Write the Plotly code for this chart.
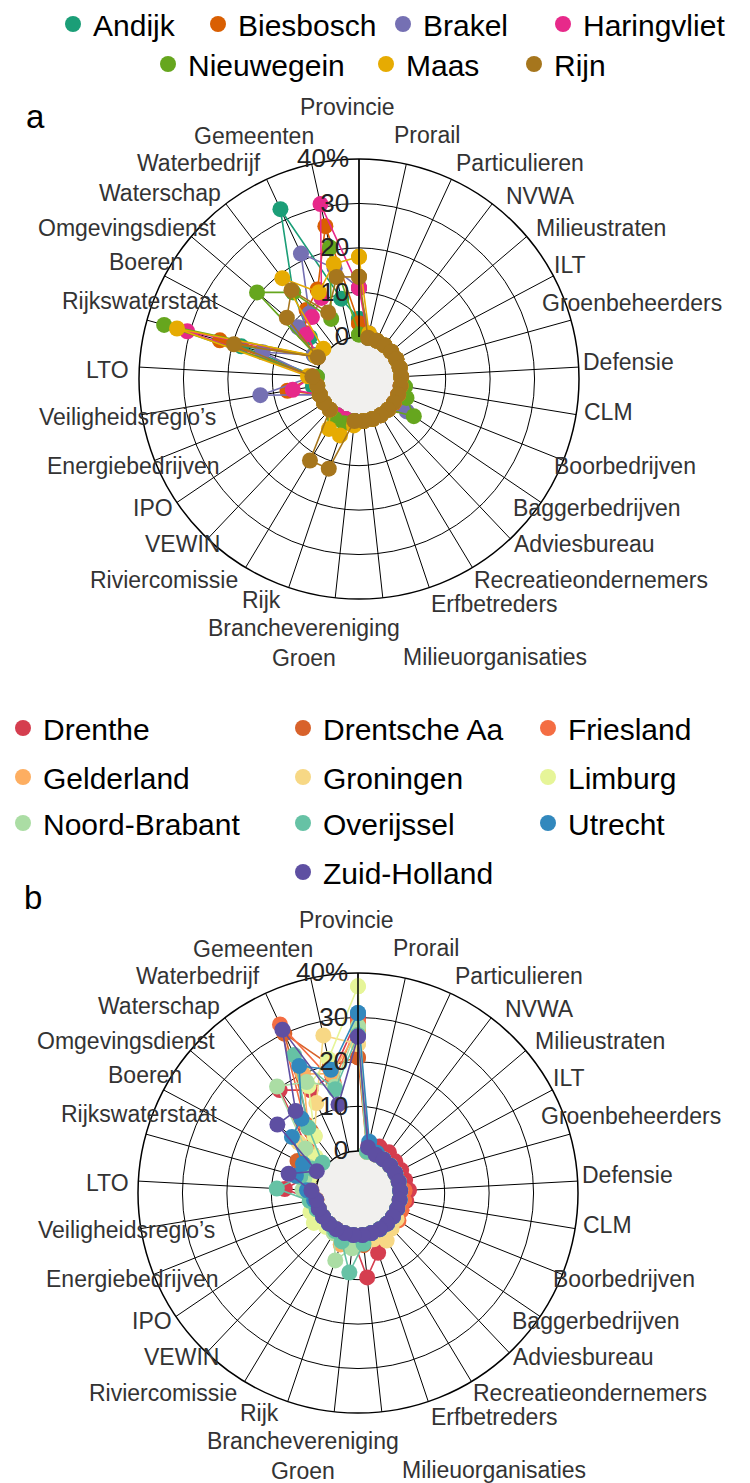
import plotly.graph_objects as go

# ---------------- data ----------------
categories = ["Provincie", "Prorail", "Particulieren", "NVWA", "Milieustraten", "ILT",
              "Groenbeheerders", "Defensie", "CLM", "Boorbedrijven", "Baggerbedrijven",
              "Adviesbureau", "Recreatieondernemers", "Erfbetreders", "Milieuorganisaties",
              "Branchevereniging<br>Groen", "Rijk", "Riviercomissie", "VEWIN", "IPO",
              "Energiebedrijven", "Veiligheidsregio’s", "LTO", "Rijkswaterstaat", "Boeren",
              "Omgevingsdienst", "Waterschap", "Waterbedrijf", "Gemeenten"]

# panel a (drinking-water intake points), % per actor
names_a = ["Andijk", "Biesbosch", "Brakel", "Haringvliet", "Nieuwegein", "Maas", "Rijn"]
andijk      = [4, 0, 0, 0, 0, 0, 0, 0, 0, 0, 0, 0, 0, 0, 0, 0, 0, 0, 0, 0, 0, 1, 0, 18, 2, 5, 15, 32.6, 9]
biesbosch   = [3, 0, 0, 0, 0, 0, 0, 0, 0, 0, 1, 0, 0, 0, 0, 0, 0, 0, 0, 0, 0, 6.8, 1, 23, 1, 6.5, 10, 12.7, 25.7]
brakel      = [11, 1, 0, 0, 0, 0, 0, 0, 0, 1, 3.5, 0, 0, 0, 0, 0, 0, 0, 0, 0, 0, 13, 1, 13, 2, 8.5, 9, 21.6, 16]
haringvliet = [11, 0, 0, 0, 0, 0, 0, 0, 0, 0, 0, 0, 0, 0, 0, 0, 0, 0, 0, 0, 0, 5.6, 1, 30.6, 1, 6, 8, 10.6, 30.8]
nieuwegein  = [0.5, 0, 0, 0, 0, 0, 0, 0, 1, 2, 5.4, 0, 0, 0, 0, 0, 1, 1, 0, 0, 0, 0, 0, 36, 1, 20.6, 15, 5.4, 20.8]
maas        = [18, 1, 0, 0, 0, 0, 0, 0, 0, 0, 0, 0, 0, 0, 0, 1, 3.9, 3.6, 0, 0, 0, 0, 2, 33, 1.5, 1, 19, 12, 17]
rijn        = [13.5, 0, 0, 0, 0, 0, 0, 0, 0, 0, 0, 0, 0, 0, 0, 0, 11.8, 11.9, 0, 0, 0, 0, 1, 19.7, 1, 11.8, 15.6, 7, 14]
values_a = [andijk, biesbosch, brakel, haringvliet, nieuwegein, maas, rijn]

# panel b (provinces / areas), % per actor
names_b = ["Drenthe", "Drentsche Aa", "Friesland", "Gelderland", "Groningen", "Limburg",
           "Noord-Brabant", "Overijssel", "Utrecht", "Zuid-Holland"]
drenthe      = [30, 1.5, 2, 2, 1.5, 1.5, 1.5, 2, 1.5, 1, 1, 1, 1, 4.7, 9.6, 1, 0.5, 0, 0, 0, 0.5, 0.5, 7, 3, 3, 5, 19.6, 16, 17.7]
drentsche_aa = [21, 0, 0, 0, 0, 0, 0, 0, 0, 0, 0, 0, 0, 0, 2.3, 0, 0, 0, 0, 0, 0, 0, 1, 2, 5.9, 4, 8, 30, 20]
friesland    = [29, 0, 0, 0, 0, 0, 0, 1, 1, 1, 1.5, 1, 0.5, 0, 0, 0, 0, 0, 0, 0, 0, 0, 2, 3, 2, 5, 10, 32.3, 16]
gelderland   = [27, 0, 0, 0, 0, 0, 0, 0, 0, 0, 0, 0, 0, 1, 1.5, 2, 2.7, 1, 0, 0, 0, 0, 2, 4, 2, 4, 9, 20, 18]
groningen    = [24, 0, 0, 0, 0, 0, 0, 0, 0, 0, 1, 1.5, 3, 1.5, 0.5, 0, 0, 0, 0, 0, 0, 0, 1, 3, 3, 8, 6.6, 12.8, 26.8]
limburg      = [37, 0, 0, 0, 0, 0, 0, 0, 0, 0, 0, 0, 0, 0, 0, 0, 0, 1, 1, 2.5, 2, 1.5, 2, 2, 2, 3, 6.6, 17, 21.4]
noord_brab   = [28, 0, 0, 0, 0, 0, 0, 0, 0, 0, 0, 0, 0, 0, 1, 3, 6.5, 1, 0, 0, 0.5, 1, 3, 3, 3, 6, 20.6, 18, 15]
overijssel   = [26, 0, 0, 0, 0, 0, 0, 0, 0, 0, 0, 0, 0, 0, 2, 8.5, 2, 0.5, 0, 0, 0.5, 1.5, 8.8, 4, 2, 1, 9, 24.7, 14.4]
utrecht      = [31, 2.3, 0.5, 0, 0, 0, 0, 0, 0, 0, 0, 0, 0, 0, 0, 0, 0, 0, 0, 0, 0, 0.5, 2, 5, 4.5, 10, 11.5, 22, 18.9]
zuid_holland = [25.7, 1, 0, 0, 0, 0, 0, 0, 0, 0, 0, 0, 0, 0, 0, 0, 0, 0, 0, 0, 0, 0, 1, 6.7, 1, 14.3, 13.7, 31, 10.9]
values_b = [drenthe, drentsche_aa, friesland, gelderland, groningen, limburg,
            noord_brab, overijssel, utrecht, zuid_holland]

radial_ticks = [0, 10, 20, 30, 40]
radial_ticktext = ["0", "10", "20", "30", "40%"]

# ---------------- styles / layout ----------------
colors_a = ["#1b9e77", "#d95f02", "#7570b3", "#e7298a", "#66a61e", "#e6ab02", "#a6761d"]
colors_b = ["#d53e4f", "#d8622b", "#f46d43", "#fdae61", "#f7d885", "#e6f598",
            "#abdda4", "#66c2a5", "#3288bd", "#5e4fa2"]

# the page body adds an 8px margin; positions below are screen px, converted with OFF
OFF = 8
W, H = 750 - OFF, 1483 - OFF
FONT = "Liberation Sans, Arial, Helvetica, sans-serif"

def px_x(X):
    return (X - OFF) / W

def px_y(Y):
    return 1 - (Y - OFF) / H

# legend entry positions (screen px of the marker centre)
legpos_a = [(73, 24), (218, 24), (403, 24), (563, 24), (168, 64), (386, 64), (534, 64)]
legpos_b = [(23, 728), (303, 728), (548, 728), (23, 777), (303, 777), (548, 777),
            (23, 823), (303, 823), (548, 823), (303, 872)]

# category label centres for panel a (screen px); panel b uses the same shifted down
catlabel_pos = [(347, 107), (427, 135), (520, 163), (540, 196), (601, 228), (570, 265),
                (632, 303), (628, 362), (608, 412), (625, 466), (597, 508), (584, 544),
                (591, 580), (495, 604), (495, 657), (304, 643), (261, 600), (164, 580),
                (182, 544), (153, 508), (133, 466), (127, 417), (108, 370), (140, 301),
                (146, 262), (127, 228), (160, 193), (199, 163), (254, 136)]
PANEL_B_DX, PANEL_B_DY = -1, 813
CENTER_A, CENTER_B, RADIUS, HOLE_PX = (359, 379), (358, 1193), 220, 42
R_MIN = -0.05

fig = go.Figure()

def closed(seq):
    return list(seq) + [seq[0]]

legend_layouts = {}
leg_idx = [0]

def add_panel(subplot, names, values, colors, legpos):
    for name, vals, col in zip(names, values, colors):
        fig.add_trace(go.Scatterpolar(
            r=closed(vals), theta=closed(categories), mode="lines+markers",
            line=dict(color=col, width=1.6), marker=dict(color=col, size=16),
            cliponaxis=False, name=name, showlegend=False, subplot=subplot))
    for name, col, (X, Y) in zip(names, colors, legpos):
        leg_idx[0] += 1
        key = "legend" if leg_idx[0] == 1 else f"legend{leg_idx[0]}"
        fig.add_trace(go.Scatterpolar(
            r=[None], theta=[categories[0]], mode="markers",
            marker=dict(color=col, size=16), name=name, showlegend=True,
            legend=key, subplot=subplot))
        legend_layouts[key] = dict(
            x=px_x(X - 20), y=px_y(Y), xanchor="left", yanchor="middle",
            bgcolor="rgba(0,0,0,0)", borderwidth=0,
            font=dict(family=FONT, size=30, color="black"), itemsizing="trace")

add_panel("polar", names_a, values_a, colors_a, legpos_a)
add_panel("polar2", names_b, values_b, colors_b, legpos_b)

def polar_layout(center, R=RADIUS):
    cx, cy = center
    return dict(
        domain=dict(x=[px_x(cx - R), px_x(cx + R)], y=[px_y(cy + R), px_y(cy - R)]),
        hole=HOLE_PX / R,
        gridshape="circular",
        bgcolor="rgba(0,0,0,0)",
        angularaxis=dict(
            direction="clockwise", rotation=90, type="category",
            showgrid=True, gridcolor="black", gridwidth=1.3,
            showline=True, linecolor="black", linewidth=1.5,
            ticks="", showticklabels=False, layer="below traces"),
        radialaxis=dict(
            range=[R_MIN, 40], tickvals=radial_ticks, ticktext=radial_ticktext,
            angle=90, side="counterclockwise", tickangle=90,
            showgrid=True, gridcolor="black", gridwidth=1.3,
            showline=True, linecolor="black", linewidth=1.5,
            ticks="", tickfont=dict(family=FONT, size=26, color="#222222"),
            layer="above traces"),
    )

# grey centre discs
shapes = []
for cx, cy in [CENTER_A, CENTER_B]:
    shapes.append(dict(type="circle", xref="paper", yref="paper", layer="below",
                       x0=px_x(cx - HOLE_PX), x1=px_x(cx + HOLE_PX),
                       y0=px_y(cy + HOLE_PX), y1=px_y(cy - HOLE_PX),
                       fillcolor="#f1f0ee", line=dict(width=0)))

annotations = [
    dict(text="a", x=px_x(35), y=px_y(117), xref="paper", yref="paper",
         showarrow=False, xanchor="center", yanchor="middle",
         font=dict(family=FONT, size=33, color="black")),
    dict(text="b", x=px_x(33), y=px_y(897), xref="paper", yref="paper",
         showarrow=False, xanchor="center", yanchor="middle",
         font=dict(family=FONT, size=33, color="black")),
]
for dx, dy in [(0, 0), (PANEL_B_DX, PANEL_B_DY)]:
    for cat, (X, Y) in zip(categories, catlabel_pos):
        annotations.append(dict(
            text=cat, x=px_x(X + dx), y=px_y(Y + dy), xref="paper", yref="paper",
            showarrow=False, xanchor="center", yanchor="middle",
            font=dict(family=FONT, size=23, color="#333333")))

layout = dict(
    width=W, height=H,
    margin=dict(l=0, r=0, t=0, b=0, autoexpand=False),
    paper_bgcolor="white",
    font=dict(family=FONT, color="#333333"),
    polar=polar_layout(CENTER_A),
    polar2=polar_layout(CENTER_B),
    annotations=annotations,
    shapes=shapes,
)
layout.update(legend_layouts)
fig.update_layout(**layout)

fig.write_html("out.html")
